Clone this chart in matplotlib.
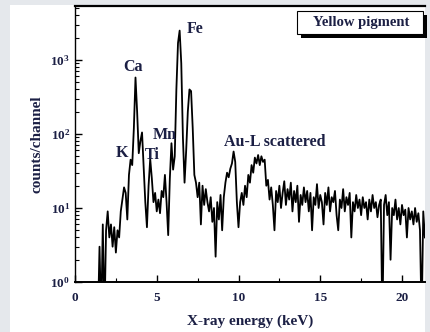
import matplotlib
matplotlib.use("Agg")
import matplotlib.pyplot as plt
import numpy as np
from matplotlib.patches import Rectangle
from matplotlib.ticker import FixedLocator, LogLocator, NullFormatter

# spectrum, one value per 0.1 keV starting at 1.3 keV
e_start = 1.3
e_step = 0.1
counts = [
    0.3, 0.3, 3, 0.3, 6, 0.3, 5, 9, 4, 6,            # 1.3 - 2.2
    3, 5.5, 2.5, 5, 4, 9, 13, 19, 16, 7,             # 2.3 - 3.2
    28, 45, 38, 120, 580, 200, 55, 80, 105, 36,      # 3.3 - 4.2
    12, 5.5, 20, 46, 25, 12, 16, 9, 13, 8.5,         # 4.3 - 5.2
    17, 14, 28, 12, 4.3, 25, 75, 33, 50, 400,        # 5.3 - 6.2
    1700, 2500, 900, 90, 22, 60, 200, 400, 380, 120,  # 6.3 - 7.2
    28, 22, 14, 22, 6, 20, 11, 18, 12, 9,            # 7.3 - 8.2
    14, 6.5, 10, 2.2, 12, 7, 15, 5, 14, 22,          # 8.3 - 9.2
    30, 26, 34, 40, 58, 42, 12, 5.5, 12, 16,         # 9.3 - 10.2
    11, 20, 14, 28, 22, 38, 30, 48, 40, 52,          # 10.3 - 11.2
    38, 50, 42, 45, 20, 24, 13, 19, 11, 5,           # 11.3 - 12.2
    17, 12, 20, 10, 16, 23, 11, 18, 13, 22,          # 12.3 - 13.2
    9, 17, 12, 20, 6.5, 15, 11, 19, 12, 17,          # 13.3 - 14.2
    9, 16, 5, 14, 11, 21, 10, 15, 12, 6,             # 14.3 - 15.2
    16, 11, 19, 9, 14, 12, 17, 8, 5, 13,             # 15.3 - 16.2
    10, 18, 9, 14, 11, 16, 4, 12, 9, 15,             # 16.3 - 17.2
    10, 13, 8, 14, 10, 12, 7, 13, 9, 15,             # 17.3 - 18.2
    10, 12, 7.5, 11, 13, 0.3, 11, 15, 8, 12,         # 18.3 - 19.2
    2, 10, 8, 13, 7, 10, 6, 11, 8, 9.5,              # 19.3 - 20.2
    4, 10, 7, 9, 6, 10, 6.5, 8.5, 5, 0.3,            # 20.3 - 21.2
    9, 4,                                            # 21.3 - 21.4
]
energy = e_start + e_step * np.arange(len(counts))

peak_labels = ["Fe", "Ca", "K", "Ti", "Mn", "Au-L scattered"]
peak_x = [6.85, 3.55, 2.85, 4.75, 5.5, 9.1]
peak_y = [2650, 800, 55, 52, 98, 78]
peak_ha = ["left", "center", "center", "center", "center", "left"]

x_major = [0, 5, 10, 15, 20]
x_minor = [2.5, 7.5, 12.5, 17.5]

plt.rcParams["font.family"] = "Liberation Serif"
plt.rcParams["font.weight"] = "bold"
plt.rcParams["mathtext.fontset"] = "custom"
plt.rcParams["mathtext.rm"] = "Liberation Serif:bold"
plt.rcParams["mathtext.bf"] = "Liberation Serif:bold"

txt = "#1b1f44"
gray = "#e5e8ec"

W, H = 430, 332
fig = plt.figure(figsize=(W / 100, H / 100), dpi=100, facecolor=gray)
# white page area behind the axes
fig.patches.append(Rectangle((10 / W, 0), 415 / W, 327 / H, transform=fig.transFigure,
                             facecolor="white", edgecolor="none", zorder=-10))

ax = fig.add_axes([75 / W, 50 / H, 350 / W, 276 / H])
ax.set_zorder(1)
ax.patch.set_alpha(0)
ax.set_yscale("log")
ax.plot(energy, counts, color="black", lw=1.3)
ax.set_xlim(0, 350 / 16.35)
ax.set_ylim(1, 10 ** 3.73)

ax.spines["right"].set_visible(False)
ax.spines["top"].set_linewidth(1.6)
ax.spines["bottom"].set_linewidth(1.4)
ax.spines["left"].set_linewidth(1.0)

ax.xaxis.set_major_locator(FixedLocator(x_major))
ax.xaxis.set_minor_locator(FixedLocator(x_minor))
ax.set_yticks([1, 10, 100, 1000])
ax.set_yticklabels([r"$\mathbf{10^{%d}}$" % k for k in range(4)])
ax.yaxis.set_minor_locator(LogLocator(base=10, subs=np.arange(2, 10), numticks=10))
ax.yaxis.set_minor_formatter(NullFormatter())
ax.tick_params(which="both", direction="in", top=False, right=False,
               labelsize=9.5, colors="black", labelcolor=txt)
ax.tick_params(which="major", length=5, width=1)
ax.tick_params(which="minor", length=3, width=0.8)
ax.tick_params(axis="x", pad=7)

ax.set_xlabel("X-ray energy (keV)", fontsize=11, fontweight="bold", color=txt, labelpad=8)
ax.set_ylabel("counts/channel", fontsize=11, fontweight="bold", color=txt, labelpad=5)

for lab, x, y, ha in zip(peak_labels, peak_x, peak_y, peak_ha):
    ax.text(x, y, lab, fontsize=11.5, fontweight="bold", color=txt, ha=ha, va="center")

# legend box with drop shadow
fig.patches.append(Rectangle((301 / W, (H - 38) / H), 126 / W, 23 / H, transform=fig.transFigure,
                             facecolor="black", edgecolor="none", zorder=5))
fig.patches.append(Rectangle((297 / W, (H - 34) / H), 126 / W, 23 / H, transform=fig.transFigure,
                             facecolor="white", edgecolor="black", lw=0.8, zorder=6))
fig.text(361 / W, (H - 22.5) / H, "Yellow pigment", fontsize=10.5, fontweight="bold",
         color=txt, ha="center", va="center", zorder=7)

fig.savefig("out.png", dpi=100, facecolor=gray)
